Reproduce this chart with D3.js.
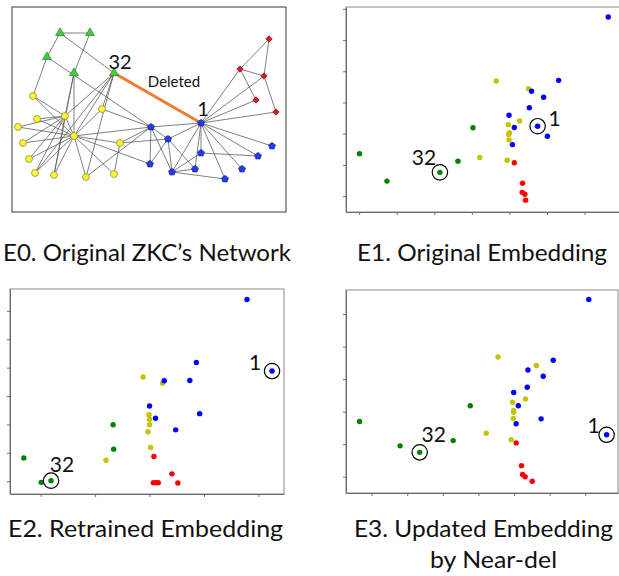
<!DOCTYPE html>
<html>
<head>
<meta charset="utf-8">
<script src="https://cdn.jsdelivr.net/npm/d3@7"></script>
<style>
  body { margin: 0; background: #fff; }
</style>
</head>
<body>
<script>
// ---- E0: Karate club network (layout units inside the panel) ----
const netNodes = [
  { id: "g1", group: "green", x: 48, y: 26 }, { id: "g2", group: "green", x: 78, y: 26 },
  { id: "g3", group: "green", x: 35, y: 50 }, { id: "g4", group: "green", x: 62, y: 66 },
  { id: "g32", group: "green", x: 102, y: 66 },
  { id: "r1", group: "red", x: 257, y: 32 }, { id: "r2", group: "red", x: 228, y: 62 },
  { id: "r3", group: "red", x: 252, y: 69 }, { id: "r4", group: "red", x: 244, y: 93 },
  { id: "r5", group: "red", x: 264, y: 105 },
  { id: "b1", group: "blue", x: 189, y: 116 }, { id: "b2", group: "blue", x: 139, y: 120 },
  { id: "b3", group: "blue", x: 156, y: 132 }, { id: "b4", group: "blue", x: 260, y: 139 },
  { id: "b5", group: "blue", x: 246, y: 149 }, { id: "b6", group: "blue", x: 189, y: 146 },
  { id: "b7", group: "blue", x: 138, y: 157 }, { id: "b8", group: "blue", x: 183, y: 162 },
  { id: "b9", group: "blue", x: 230, y: 162 }, { id: "b10", group: "blue", x: 160, y: 165 },
  { id: "b11", group: "blue", x: 213, y: 172 },
  { id: "y1", group: "yellow", x: 21, y: 89 }, { id: "y2", group: "yellow", x: 53, y: 109 },
  { id: "y3", group: "yellow", x: 90, y: 102 }, { id: "y4", group: "yellow", x: 25, y: 112 },
  { id: "y5", group: "yellow", x: 6, y: 120 }, { id: "y6", group: "yellow", x: 62, y: 129 },
  { id: "y7", group: "yellow", x: 108, y: 136 }, { id: "y8", group: "yellow", x: 11, y: 136 },
  { id: "y9", group: "yellow", x: 17, y: 152 }, { id: "y10", group: "yellow", x: 23, y: 166 },
  { id: "y11", group: "yellow", x: 42, y: 168 }, { id: "y12", group: "yellow", x: 74, y: 170 },
  { id: "y13", group: "yellow", x: 102, y: 167 }
];
const netEdges = [
  ["g1", "g2"], ["g1", "g3"], ["g1", "g32"], ["g2", "g4"], ["g3", "y1"], ["g3", "b2"],
  ["g4", "y2"], ["g4", "y6"], ["g4", "y11"], ["g32", "y2"], ["g32", "y3"], ["g32", "y6"],
  ["g32", "y10"], ["g32", "y12"],
  ["y1", "y2"], ["y1", "y6"], ["y2", "y4"], ["y2", "y5"], ["y2", "y6"], ["y2", "y8"],
  ["y2", "y9"], ["y2", "y10"], ["y2", "y11"], ["y4", "y6"], ["y5", "y6"], ["y8", "y6"],
  ["y9", "y6"], ["y10", "y6"], ["y11", "y6"], ["y12", "y6"], ["y13", "y6"], ["y7", "y6"],
  ["y3", "y6"], ["y3", "b2"], ["y6", "b2"], ["y7", "b2"], ["y7", "b3"], ["y7", "y13"],
  ["y6", "b7"], ["y12", "b2"],
  ["b1", "b2"], ["b1", "b3"], ["b1", "b6"], ["b1", "b8"], ["b1", "b10"], ["b1", "b11"],
  ["b1", "b9"], ["b1", "b5"], ["b1", "b4"], ["b1", "r2"], ["b1", "r3"], ["b1", "r4"],
  ["b1", "r5"], ["b2", "b7"], ["b2", "b10"], ["b2", "b3"], ["b3", "b10"], ["b3", "b8"],
  ["b7", "b3"], ["b10", "b6"], ["b10", "b11"], ["b6", "b5"], ["b10", "b8"],
  ["r1", "r2"], ["r1", "r3"], ["r2", "r3"], ["r2", "r4"], ["r3", "r5"]
];
const deletedEdge = ["g32", "b1"];

// ---- E1: original embedding ----
const e1Blue = [[6.63, 5.74], [5.31, 3.71], [4.59, 3.36], [4.91, 3.17], [4.53, 2.83], [3.99, 2.59], [4.13, 2.20], [4.75, 2.24], [5.01, 1.92], [4.08, 1.65]];
const e1Yellow = [[3.65, 3.69], [4.51, 3.44], [4.27, 2.41], [3.97, 2.29], [4.00, 2.03], [3.98, 1.97], [3.99, 1.80], [3.21, 1.24], [3.94, 1.15]];
const e1Green = [[0.01, 1.36], [0.74, 0.48], [2.15, 0.76], [2.63, 1.12], [3.03, 2.19]];
const e1Red = [[4.13, 1.07], [4.35, 0.41], [4.34, 0.12], [4.41, 0.06], [4.43, -0.13]];
const e1Node1 = [4.75, 2.24];
const e1Node32 = [2.15, 0.76];

// ---- E2: retrained embedding ----
const e2Blue = [[3.79, 6.40], [4.25, 3.88], [2.86, 4.18], [2.74, 3.55], [2.27, 3.54], [2.00, 2.65], [2.11, 2.22], [2.92, 2.38], [2.48, 1.81]];
const e2Yellow = [[1.88, 3.67], [2.24, 3.45], [1.99, 2.34], [2.00, 2.18], [2.00, 1.99], [1.97, 1.74], [2.02, 1.19], [1.20, 0.74]];
const e2Green = [[-0.31, 0.82], [0.01, -0.04], [0.19, 0.02], [1.34, 1.13], [1.33, 1.99]];
const e2Red = [[2.08, 0.87], [2.41, 0.26], [2.52, -0.06], [2.07, -0.05], [2.12, -0.05], [2.16, -0.05]];
const e2Node1 = [4.25, 3.88];
const e2Node32 = [0.19, 0.02];

// ---- E3: updated embedding by Near-del ----
const e3Blue = [[6.10, 5.45], [6.60, 1.29], [5.10, 3.58], [4.39, 3.28], [4.82, 3.09], [4.37, 2.75], [3.99, 2.59], [4.12, 2.18], [4.76, 1.78], [4.06, 1.63]];
const e3Yellow = [[3.55, 3.68], [4.63, 3.42], [4.32, 2.39], [3.96, 2.29], [3.99, 2.04], [3.99, 1.98], [3.98, 1.79], [3.22, 1.34], [3.92, 1.14]];
const e3Green = [[-0.34, 1.70], [0.80, 0.95], [1.35, 0.75], [2.29, 1.11], [2.77, 2.18]];
const e3Red = [[4.06, 1.04], [4.21, 0.34], [4.24, 0.07], [4.31, 0.00], [4.51, -0.14]];
const e3Node1 = [6.60, 1.29];
const e3Node32 = [1.35, 0.75];

const captions = ["E0. Original ZKC\u2019s Network", "E1. Original Embedding", "E2. Retrained Embedding", "E3. Updated Embedding", "by Near-del"];

// colours
const netFill = { green: "#3dd23d", red: "#e8141e", blue: "#1f3cf5", yellow: "#fcf43a" };
const netStroke = { green: "#2a7a2a", red: "#7a1010", blue: "#1a237a", yellow: "#8a8420" };
const dotColor = { blue: "#0000ff", yellow: "#c3c300", green: "#008000", red: "#ff0000" };

const width = 619, height = 576;
const font = "Lato, 'Open Sans', sans-serif";

const svg = d3.select("body").append("svg")
  .attr("width", width)
  .attr("height", height)
  .style("display", "block");

// ---------- E0 network ----------
const nx = d3.scaleLinear().domain([0, 274]).range([12, 286]);
const ny = d3.scaleLinear().domain([0, 205]).range([7, 212]);
const byId = new Map(netNodes.map(d => [d.id, d]));

svg.append("rect")
  .attr("x", nx(0)).attr("y", ny(0))
  .attr("width", nx(274) - nx(0)).attr("height", ny(205) - ny(0))
  .attr("fill", "none").attr("stroke", "#3a3a3a").attr("stroke-width", 1);

svg.append("g").selectAll("line").data(netEdges).join("line")
  .attr("x1", d => nx(byId.get(d[0]).x)).attr("y1", d => ny(byId.get(d[0]).y))
  .attr("x2", d => nx(byId.get(d[1]).x)).attr("y2", d => ny(byId.get(d[1]).y))
  .attr("stroke", "#606060").attr("stroke-width", 0.8);

svg.append("line")
  .attr("x1", nx(byId.get(deletedEdge[0]).x)).attr("y1", ny(byId.get(deletedEdge[0]).y))
  .attr("x2", nx(byId.get(deletedEdge[1]).x)).attr("y2", ny(byId.get(deletedEdge[1]).y))
  .attr("stroke", "#ed7d31").attr("stroke-width", 3);

function pentagon(r) {
  const pts = d3.range(5).map(i => {
    const a = -Math.PI / 2 + i * 2 * Math.PI / 5;
    return [r * Math.cos(a), r * Math.sin(a)];
  });
  return "M" + pts.map(p => p.join(",")).join("L") + "Z";
}
const triangle = d3.symbol().type(d3.symbolTriangle).size(34)();
const diamond = d3.symbol().type(d3.symbolSquare).size(20)();

svg.append("g").selectAll("path").data(netNodes).join("path")
  .attr("transform", d => `translate(${nx(d.x)},${ny(d.y)})` + (d.group === "red" ? " rotate(45)" : ""))
  .attr("d", d => d.group === "green" ? triangle : d.group === "red" ? diamond
    : d.group === "blue" ? pentagon(3.6) : d3.symbol().type(d3.symbolCircle).size(38)())
  .attr("fill", d => netFill[d.group])
  .attr("stroke", d => netStroke[d.group])
  .attr("stroke-width", 0.7);

svg.append("text").attr("x", nx(108)).attr("y", ny(62)).text("32")
  .attr("text-anchor", "middle").attr("font-family", font).attr("font-size", 20).attr("fill", "#111");
svg.append("text").attr("x", nx(191)).attr("y", ny(109)).text("1")
  .attr("text-anchor", "middle").attr("font-family", font).attr("font-size", 20).attr("fill", "#111");
svg.append("text").attr("x", nx(162)).attr("y", ny(80)).text("Deleted")
  .attr("text-anchor", "middle").attr("font-family", font).attr("font-size", 15).attr("fill", "#111");

// ---------- embedding panels ----------
function drawEmbedding(p, groups, node1, node32) {
  const x = d3.scaleLinear().domain(p.xDomain).range([p.left, p.right]);
  const y = d3.scaleLinear().domain(p.yDomain).range([p.bottom, p.top]);
  const g = svg.append("g");

  // frame (top / right)
  g.append("rect")
    .attr("x", p.left).attr("y", p.top)
    .attr("width", p.right - p.left).attr("height", p.bottom - p.top)
    .attr("fill", "none").attr("stroke", "#8a8a8a").attr("stroke-width", 1);

  const xAxis = g.append("g").attr("transform", `translate(0,${p.bottom})`)
    .call(d3.axisBottom(x).tickValues(p.xTicks).tickSize(3).tickSizeOuter(0).tickFormat(""));
  const yAxis = g.append("g").attr("transform", `translate(${p.left},0)`)
    .call(d3.axisLeft(y).tickValues(p.yTicks).tickSize(3).tickSizeOuter(0).tickFormat(""));
  [xAxis, yAxis].forEach(a => {
    a.selectAll("path, line").attr("stroke", "#6a6a6a");
  });

  Object.entries(groups).forEach(([key, pts]) => {
    g.append("g").selectAll("circle").data(pts).join("circle")
      .attr("cx", d => x(d[0])).attr("cy", d => y(d[1]))
      .attr("r", 2.7).attr("fill", dotColor[key]);
  });

  [node1, node32].forEach(n => {
    g.append("circle").attr("cx", x(n[0])).attr("cy", y(n[1])).attr("r", 7.7)
      .attr("fill", "none").attr("stroke", "#000").attr("stroke-width", 1.2);
  });

  g.append("text").attr("x", x(node1[0]) + p.l1[0]).attr("y", y(node1[1]) + p.l1[1])
    .text("1").attr("text-anchor", "middle").attr("font-family", font).attr("font-size", 21).attr("fill", "#111");
  g.append("text").attr("x", x(node32[0]) + p.l32[0]).attr("y", y(node32[1]) + p.l32[1])
    .text("32").attr("text-anchor", "middle").attr("font-family", font).attr("font-size", 21).attr("fill", "#111");
}

drawEmbedding({
  left: 346, right: 624, top: 7, bottom: 212,
  xDomain: [-0.35, 7.05], yDomain: [-0.51, 6.06],
  xTicks: [0, 1, 2, 3, 4, 5, 6], yTicks: [0, 1, 2, 3, 4, 5, 6],
  l1: [17, 0], l32: [-16, -7]
}, { green: e1Green, red: e1Red, yellow: e1Yellow, blue: e1Blue }, e1Node1, e1Node32);

drawEmbedding({
  left: 10, right: 284, top: 289, bottom: 494,
  xDomain: [-0.564, 4.47], yDomain: [-0.45, 6.77],
  xTicks: [0, 1, 2, 3, 4], yTicks: [0, 1, 2, 3, 4, 5, 6],
  l1: [-17, -1], l32: [11, -9]
}, { green: e2Green, red: e2Red, yellow: e2Yellow, blue: e2Blue }, e2Node1, e2Node32);

drawEmbedding({
  left: 346, right: 618, top: 290, bottom: 493,
  xDomain: [-0.72, 6.92], yDomain: [-0.5, 5.74],
  xTicks: [0, 1, 2, 3, 4, 5, 6], yTicks: [0, 1, 2, 3, 4, 5],
  l1: [-13, -2], l32: [14, -10]
}, { green: e3Green, red: e3Red, yellow: e3Yellow, blue: e3Blue }, e3Node1, e3Node32);

// ---------- captions (left edge, right edge, baseline) ----------
const capPos = [[3, 291, 261], [357, 607, 261], [8, 283, 537], [354, 613, 537], [430, 557, 568]];
svg.append("g").selectAll("text").data(captions).join("text")
  .attr("x", (d, i) => capPos[i][0]).attr("y", (d, i) => capPos[i][2])
  .attr("textLength", (d, i) => capPos[i][1] - capPos[i][0])
  .attr("lengthAdjust", "spacingAndGlyphs")
  .attr("font-family", font).attr("font-size", 24).attr("fill", "#111")
  .text(d => d);
</script>
</body>
</html>
